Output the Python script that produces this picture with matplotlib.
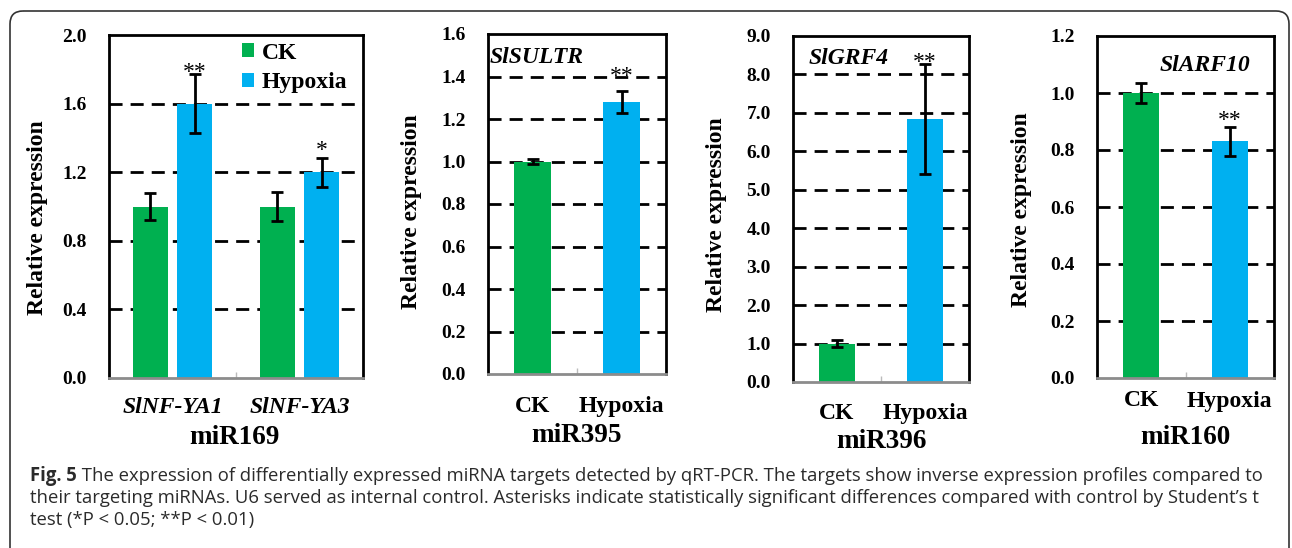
import matplotlib
matplotlib.use("Agg")
import matplotlib.pyplot as plt
from matplotlib.patches import FancyBboxPatch
import numpy as np

# ---------------- data ----------------
series_names = ["CK", "Hypoxia"]

mir169_genes = ["SlNF-YA1", "SlNF-YA3"]
mir169_ck = [1.00, 1.00]
mir169_ck_err = [0.08, 0.085]
mir169_hyp = [1.60, 1.20]
mir169_hyp_err = [0.17, 0.085]
mir169_sig = ["**", "*"]

mir395_gene = "SlSULTR"
mir395_vals = [1.00, 1.28]
mir395_err = [0.013, 0.05]

mir396_gene = "SlGRF4"
mir396_vals = [1.00, 6.83]
mir396_err = [0.10, 1.43]

mir160_gene = "SlARF10"
mir160_vals = [1.00, 0.83]
mir160_err = [0.035, 0.05]

mirnas = ["miR169", "miR395", "miR396", "miR160"]

caption_bold = "Fig. 5"
caption_lines = [
    " The expression of differentially expressed miRNA targets detected by qRT-PCR. The targets show inverse expression profiles compared to",
    "their targeting miRNAs. U6 served as internal control. Asterisks indicate statistically significant differences compared with control by Student\u2019s t",
    "test (*P < 0.05; **P < 0.01)",
]

# ---------------- style ----------------
W, H = 1292, 548
GREEN = "#00B050"
BLUE = "#00B0F0"
SERIF = "Liberation Serif"
plt.rcParams["font.family"] = SERIF

fig = plt.figure(figsize=(W / 100, H / 100), dpi=100)


def rect(l, t, r, b):
    return [l / W, 1 - b / H, (r - l) / W, (b - t) / H]


def style_axes(ax, ymax, step, xpad):
    ax.set_ylim(0, ymax)
    ax.set_xlim(-0.5, 1.5)
    ticks = np.round(np.arange(0, ymax + step / 2, step), 4)
    ax.set_yticks(ticks)
    ax.set_yticklabels([f"{t:.1f}" for t in ticks], fontsize=14, fontweight="bold")
    ax.tick_params(axis="y", length=0, pad=16)
    ax.tick_params(axis="x", length=0, pad=xpad)
    for t in ticks[1:-1]:
        ax.axhline(t, color="black", lw=2.0, ls=(0, (4.7, 2.9)), zorder=0.5)
    for s in ["left", "right", "top"]:
        ax.spines[s].set_color("black")
        ax.spines[s].set_linewidth(2.0)
    ax.spines["bottom"].set_color("#8c8c8c")
    ax.spines["bottom"].set_linewidth(2.0)
    ax.set_xticks([-0.5, 0.5, 1.5], minor=True)
    ax.tick_params(axis="x", which="minor", direction="in", length=4, width=1,
                   color="#bbbbbb")


def ylab(ax, x, y):
    ax.text(x, y, "Relative expression", transform=ax.transAxes, rotation=90,
            ha="center", va="center", fontsize=17, fontweight="bold")


def group_label(text, xpix, ypix):
    fig.text(xpix / W, 1 - ypix / H, text, ha="center", va="center",
             fontsize=19.5, fontweight="bold")


def star(ax, x, ypix_center, ax_top, ax_bot, ymax, s):
    y = (ax_bot - (ypix_center + 6)) / (ax_bot - ax_top) * ymax
    ax.text(x, y, s, ha="center", va="center", fontsize=17)


err_kw = dict(ecolor="black", elinewidth=2, capsize=4, capthick=2)

# ---------------- panel 1: miR169 ----------------
ax1 = fig.add_axes(rect(109, 35, 363, 378))
x = np.arange(len(mir169_genes))
off, bw = 0.175, 0.275
ax1.bar(x - off, mir169_ck, bw, color=GREEN, label=series_names[0], zorder=2,
        yerr=mir169_ck_err, error_kw=err_kw)
ax1.bar(x + off, mir169_hyp, bw, color=BLUE, label=series_names[1], zorder=2,
        yerr=mir169_hyp_err, error_kw=err_kw)
style_axes(ax1, 2.0, 0.4, 14)
ax1.set_xticks(x)
ax1.set_xticklabels(mir169_genes, fontsize=17, fontweight="bold", style="italic")
ylab(ax1, -0.283, 0.468)
star(ax1, 0 + off, 67, 35, 378, 2.0, mir169_sig[0])
star(ax1, 1 + off, 144, 35, 378, 2.0, mir169_sig[1])
leg = ax1.legend(loc="upper left", bbox_to_anchor=(0.515, 0.985), frameon=False,
                 prop={"family": SERIF, "weight": "bold", "size": 17},
                 handlelength=0.52, handleheight=0.52, handletextpad=0.3,
                 labelspacing=0.38, borderaxespad=0.0, borderpad=0.1)
group_label(mirnas[0], 234, 437)

# ---------------- single-gene panels ----------------
panels = [
    (mir395_vals, mir395_err, mir395_gene, rect(488, 34, 666, 374), 1.6, 0.2,
     (0.01, 0.932, "left"), (71, 34, 374), (-0.427, 0.478), (577, 436), mirnas[1], 15.5),
    (mir396_vals, mir396_err, mir396_gene, rect(793, 36, 969, 382), 9.0, 1.0,
     (0.09, 0.936, "left"), (57, 36, 382), (-0.432, 0.483), (881, 441), mirnas[2], 14.8),
    (mir160_vals, mir160_err, mir160_gene, rect(1097, 36, 1274, 378), 1.2, 0.2,
     (0.356, 0.915, "left"), (115, 36, 378), (-0.429, 0.491), (1185, 437), mirnas[3], 9.0),
]

for vals, errs, gene, r, ymax, step, gpos, spos, lpos, gl, mname, xpad in panels:
    ax = fig.add_axes(r)
    xs = np.arange(2)
    ax.bar(xs, vals, 0.41, color=[GREEN, BLUE], zorder=2, yerr=errs,
           error_kw=err_kw)
    style_axes(ax, ymax, step, xpad)
    ax.set_xticks(xs)
    ax.set_xticklabels(series_names, fontsize=17, fontweight="bold")
    ax.text(gpos[0], gpos[1], gene, transform=ax.transAxes, ha=gpos[2],
            va="center", fontsize=17, fontweight="bold", style="italic")
    star(ax, 1, spos[0], spos[1], spos[2], ymax, "**")
    ylab(ax, *lpos)
    group_label(mname, gl[0], gl[1])

# ---------------- border & caption ----------------
ov = fig.add_axes([0, 0, 1, 1], zorder=-5)
ov.set_xlim(0, W)
ov.set_ylim(H, 0)
ov.axis("off")
ov.add_patch(FancyBboxPatch((10, 11), 1279, 600,
                            boxstyle="round,pad=0,rounding_size=13",
                            fill=False, ec="#333333", lw=1.2))

cap_font = "Open Sans"
cap_color = "#2b2b2b"
fs = 12.0
fig.canvas.draw()
renderer = fig.canvas.get_renderer()
# fit font size so that line 1 spans ~1227 px
tb = fig.text(0, 0, caption_bold, fontsize=fs, fontweight="bold", family=cap_font)
tr = fig.text(0, 0, caption_lines[0], fontsize=fs, family=cap_font)
wtot = tb.get_window_extent(renderer).width + tr.get_window_extent(renderer).width
tb.remove(); tr.remove()
fs = fs * 1227 / wtot

line_y = [476, 498, 520]
x0 = 30
tb = ov.text(x0, line_y[0], caption_bold, fontsize=fs, fontweight="bold",
             family=cap_font, color=cap_color, va="center", ha="left")
wb = tb.get_window_extent(renderer).width
ov.text(x0 + wb, line_y[0], caption_lines[0], fontsize=fs, family=cap_font,
        color=cap_color, va="center", ha="left")
for ly, txt in zip(line_y[1:], caption_lines[1:]):
    ov.text(x0, ly, txt, fontsize=fs, family=cap_font, color=cap_color,
            va="center", ha="left")

fig.savefig("out.png", dpi=100)
